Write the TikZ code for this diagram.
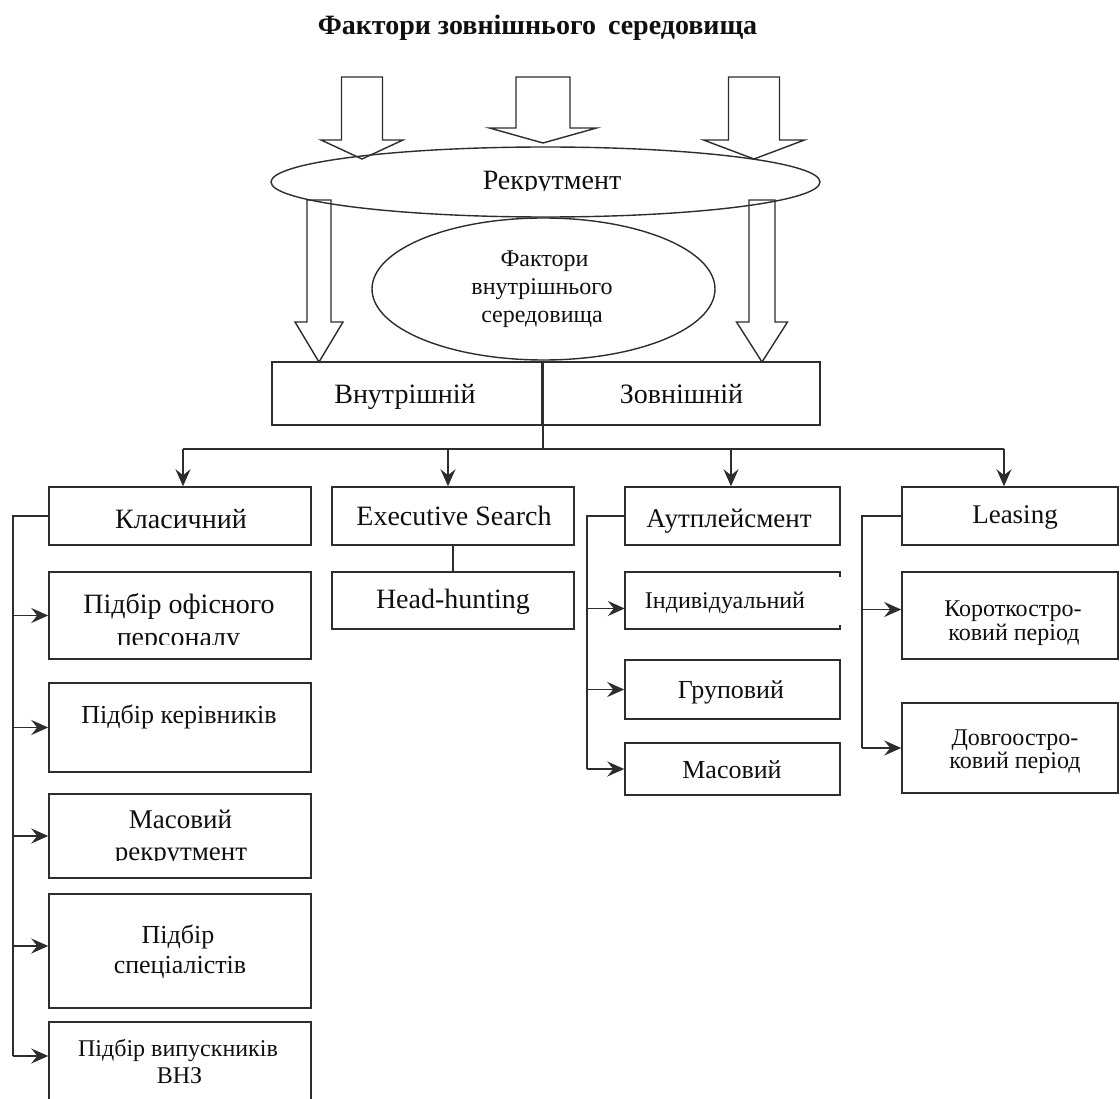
\documentclass[tikz,border=0pt]{standalone}
\usepackage{fontspec}
\setmainfont{Liberation Serif}
\usetikzlibrary{shapes.geometric,arrows.meta}
\definecolor{lnc}{RGB}{45,45,45}
\definecolor{txc}{RGB}{15,15,15}
\newcommand\fsz[1]{\fontsize{#1}{#1}\selectfont}
\newcommand\bx[5]{\node[box, minimum width={(#4)-(#2)}, minimum height={(#5)-(#3)}] (#1) at ({((#2)+(#4))/2},{((#3)+(#5))/2}) {};}
\newcommand\blockar[5]{\draw[blk] (#1) -- ++(-#2,-#3) -- ++({#2-#4},0) -- ++(0,-#5) -- ++({2*#4},0) -- ++(0,#5) -- ++({#2-#4},0) -- cycle;}
\begin{document}
\begin{tikzpicture}[x=1pt,y=-1pt,
  box/.style={draw=lnc, line width=1.5pt, rectangle, inner sep=0pt},
  lbl/.style={anchor=base, inner sep=0pt, text=txc},
  arr/.style={draw=lnc, line width=1.5pt, -{Stealth[length=17pt,width=15pt,inset=6pt]}},
  lnk/.style={draw=lnc, line width=1.5pt},
  blk/.style={draw=lnc, line width=1.4pt, fill=white, line join=miter},
  ell/.style={draw=lnc, line width=1.4pt, ellipse, inner sep=0pt}]
\useasboundingbox (0,0) rectangle (1120,1099);

% title
\node[lbl, font=\bfseries\fsz{28}] (title) at (537.5,35) {Фактори зовнішнього\hspace{5pt} середовища};

% block arrows
\coordinate (ta1) at (362,159);
\coordinate (ta2) at (543,143);
\coordinate (ta3) at (754,159);
\coordinate (tb1) at (319,362);
\coordinate (tb2) at (762,362);
\blockar{ta1}{41}{19}{20.5}{63}
\blockar{ta2}{53.5}{15}{27}{51}
\blockar{ta3}{50.5}{19}{25.5}{63}
\blockar{tb1}{24}{40}{12}{122}
\blockar{tb2}{25.5}{40}{13}{122}

% ellipses
\node[ell, minimum width=549pt, minimum height=70pt] (rek) at (545.5,182) {};
\node[ell, minimum width=343pt, minimum height=142pt] (fvs) at (543.5,289) {};
\begin{scope}
  \clip (400,150) rectangle (700,191);
  \node[lbl, font=\fsz{28}] (trek) at (552,190) {Рекрутмент};
\end{scope}
\node[lbl, font=\fsz{24}] (tf1) at (544.5,267) {Фактори};
\node[lbl, font=\fsz{24}] (tf2) at (542,295) {внутрішнього};
\node[lbl, font=\fsz{24}] (tf3) at (542,323) {середовища};

% internal / external
\bx{vn}{272}{362}{542}{425}
\bx{zn}{542}{362}{820}{425}
\node[lbl, font=\fsz{28}] (tvn) at (405,403) {Внутрішній};
\node[lbl, font=\fsz{28}] (tzn) at (681.5,403) {Зовнішній};

% second level boxes
\bx{kl}{49}{487}{311}{545}
\bx{es}{332}{487}{574}{545}
\bx{au}{625}{487}{840}{545}
\bx{le}{902}{487}{1118}{545}

% bus
\coordinate (busL) at (183,449);
\coordinate (busE) at (448,449);
\coordinate (busA) at (731,449);
\coordinate (busR) at (1004,449);
\draw[lnk] (busL) -- (busR);
\draw[lnk] (vn.north east) -- (vn.north east |- busL);
\draw[arr] (busL) -- (busL |- kl.north);
\draw[arr] (busE) -- (busE |- es.north);
\draw[arr] (busA) -- (busA |- au.north);
\draw[arr] (busR) -- (busR |- le.north);

\node[lbl, font=\fsz{28}] (tkl) at (181,528) {Класичний};
\node[lbl, font=\fsz{28}] (tes) at (454,525) {Executive Search};
\node[lbl, font=\fsz{27}] (tau) at (729,527) {Аутплейсмент};
\node[lbl, font=\fsz{27}] (tle) at (1015,523) {Leasing};

% classic column
\bx{pof}{49}{572}{311}{659}
\bx{pk}{49}{683}{311}{772}
\bx{mr}{49}{794}{311}{878}
\bx{ps}{49}{894}{311}{1008}
\bx{pv}{49}{1022}{311}{1115}
\coordinate (spK) at (13,0);
\coordinate (p4) at ([yshift=5pt]ps.west);
\coordinate (p5) at ([yshift=12.5pt]pv.west);
\draw[lnk] (kl.west) -| (spK |- p5);
\draw[arr] (spK |- pof.west) -- (pof.west);
\draw[arr] (spK |- pk.west) -- (pk.west);
\draw[arr] (spK |- mr.west) -- (mr.west);
\draw[arr] (spK |- p4) -- (p4);
\draw[arr] (spK |- p5) -- (p5);
\node[lbl, font=\fsz{28}] (tpof1) at (179,613) {Підбір офісного};
\begin{scope}
  \clip (60,620) rectangle (300,644);
  \node[lbl, font=\fsz{28}] (tpof2) at (178.5,646) {персоналу};
\end{scope}
\node[lbl, font=\fsz{26}] (tpk) at (179,723) {Підбір керівників};
\node[lbl, font=\fsz{27}] (tmr1) at (180.5,828) {Масовий};
\begin{scope}
  \clip (60,835) rectangle (300,860);
  \node[lbl, font=\fsz{27}] (tmr2) at (181,860) {рекрутмент};
\end{scope}
\node[lbl, font=\fsz{26}] (tps1) at (178,943) {Підбір};
\node[lbl, font=\fsz{26}] (tps2) at (180,973) {спеціалістів};
\node[lbl, font=\fsz{24}] (tpv1) at (178,1056) {Підбір випускників};
\node[lbl, font=\fsz{24}] (tpv2) at (179.5,1083) {ВНЗ};

% executive search
\bx{hh}{332}{572}{574}{629}
\draw[lnk] (es.south) -- (hh.north);
\node[lbl, font=\fsz{28}] (thh) at (453,608) {Head-hunting};

% outplacement column
\node[rectangle, inner sep=0pt, minimum width=215pt, minimum height=57pt] (ind) at (732.5,600.5) {};
\draw[lnk] ([yshift=-5pt]ind.north east) -- (ind.north east) -- (ind.north west) -- (ind.south west) -- (ind.south east) -- ++(0,-4);
\bx{gr}{625}{660}{840}{719}
\bx{ms}{625}{743}{840}{795}
\coordinate (spA) at (587,0);
\coordinate (pi) at ([yshift=-8pt]ind.west);
\draw[lnk] (au.west) -| (spA |- ms.west);
\draw[arr] (spA |- pi) -- (pi);
\draw[arr] (spA |- gr.west) -- (gr.west);
\draw[arr] (spA |- ms.west) -- (ms.west);
\node[lbl, font=\fsz{24}] (tind) at (725,608) {Індивідуальний};
\node[lbl, font=\fsz{26}] (tgr) at (731,698) {Груповий};
\node[lbl, font=\fsz{26}] (tms) at (732,778) {Масовий};

% leasing column
\bx{ko}{902}{572}{1118}{659}
\bx{do}{902}{703}{1118}{793}
\coordinate (spL) at (862,0);
\coordinate (pk2) at ([yshift=6pt]ko.west);
\draw[lnk] (le.west) -| (spL |- do.west);
\draw[arr] (spL |- pk2) -- (pk2);
\draw[arr] (spL |- do.west) -- (do.west);
\node[lbl, font=\fsz{24}] (tko1) at (1013,616) {Короткостро-};
\node[lbl, font=\fsz{24}] (tko2) at (1014,640) {ковий період};
\node[lbl, font=\fsz{24}] (tdo1) at (1015,745) {Довгоостро-};
\node[lbl, font=\fsz{24}] (tdo2) at (1015,768) {ковий період};
\end{tikzpicture}
\end{document}
